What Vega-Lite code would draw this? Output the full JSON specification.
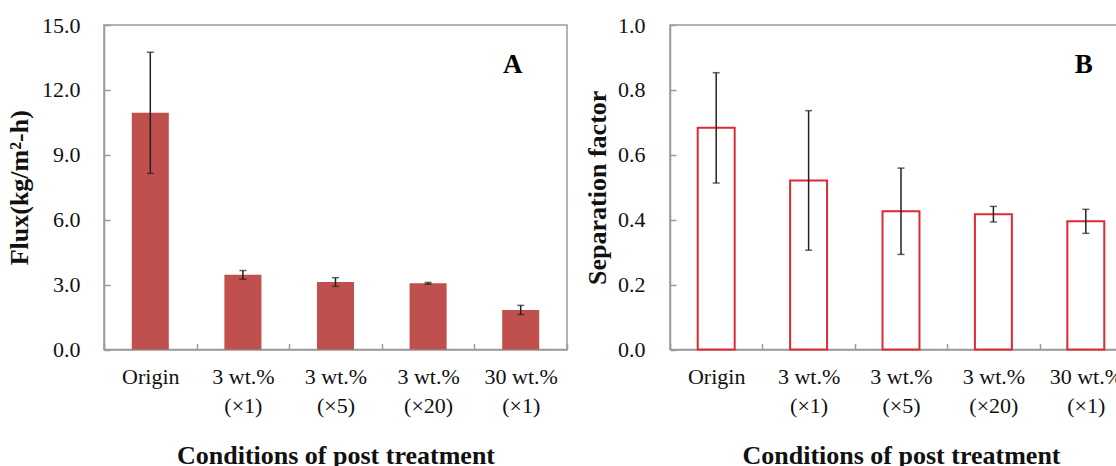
{
  "$schema": "https://vega.github.io/schema/vega-lite/v6.json",
  "padding": {"left": 5, "top": 13, "right": 0, "bottom": 0},
  "spacing": 14,
  "background": "white",
  "datasets": {
    "membrane": [
      {"cond": "Origin", "flux": 10.94, "flux_err": 2.8, "sep": 0.683, "sep_err": 0.17},
      {"cond": "3 wt.%|(×1)", "flux": 3.45, "flux_err": 0.2, "sep": 0.521, "sep_err": 0.215},
      {"cond": "3 wt.%|(×5)", "flux": 3.12, "flux_err": 0.2, "sep": 0.426, "sep_err": 0.133},
      {"cond": "3 wt.%|(×20)", "flux": 3.06, "flux_err": 0.04, "sep": 0.417, "sep_err": 0.024},
      {"cond": "30 wt.%|(×1)", "flux": 1.83, "flux_err": 0.21, "sep": 0.395, "sep_err": 0.037, "panelA": "A", "panelB": "B"}
    ]
  },
  "hconcat": [
    {
      "width": 463,
      "height": 324.5,
      "data": {"name": "membrane"},
      "encoding": {
        "x": {
          "field": "cond", "type": "nominal", "sort": null,
          "scale": {"paddingInner": 0, "paddingOuter": 0},
          "axis": {
            "title": "Conditions of post treatment",
            "labelExpr": "isValid(datum.value) ? split(datum.value, '|') : ''",
            "labelAngle": 0, "labelLineHeight": 29, "labelPadding": 23,
            "tickBand": "extent", "tickSize": -6,
            "titleY": 114.3, "titleBaseline": "alphabetic"
          }
        },
        "y": {
          "field": "flux", "type": "quantitative",
          "scale": {"domain": [0, 15], "nice": false},
          "axis": {
            "title": "Flux(kg/m²-h)",
            "values": [0, 3, 6, 9, 12, 15], "format": ".1f",
            "tickSize": -6, "labelPadding": 30,
            "titleX": -77, "titleY": 162.25, "titleBaseline": "alphabetic", "titleAlign": "center", "titleAngle": -90
          }
        }
      },
      "layer": [
        {"mark": {"type": "bar", "color": "#c0504d", "width": {"band": 0.4}}},
        {
          "mark": {"type": "errorbar", "color": "#222222", "ticks": {"size": 7, "thickness": 1.5}, "rule": {"strokeWidth": 1.5}},
          "encoding": {"yError": {"field": "flux_err"}}
        },
        {
          "transform": [{"filter": "isValid(datum.panelA)"}],
          "mark": {"type": "text", "font": "Liberation Serif", "fontWeight": "bold", "fontSize": 27, "align": "center", "baseline": "alphabetic", "dx": -8, "color": "black"},
          "encoding": {
            "y": {"datum": 12.76},
            "text": {"field": "panelA"}
          }
        }
      ]
    },
    {
      "width": 462,
      "height": 324.5,
      "data": {"name": "membrane"},
      "encoding": {
        "x": {
          "field": "cond", "type": "nominal", "sort": null,
          "scale": {"paddingInner": 0, "paddingOuter": 0},
          "axis": {
            "title": "Conditions of post treatment",
            "labelExpr": "isValid(datum.value) ? split(datum.value, '|') : ''",
            "labelAngle": 0, "labelLineHeight": 29, "labelPadding": 23,
            "tickBand": "extent", "tickSize": -6,
            "titleY": 114.3, "titleBaseline": "alphabetic"
          }
        },
        "y": {
          "field": "sep", "type": "quantitative",
          "scale": {"domain": [0, 1], "nice": false},
          "axis": {
            "title": "Separation factor",
            "values": [0, 0.2, 0.4, 0.6, 0.8, 1.0], "format": ".1f",
            "tickSize": -6, "labelPadding": 31,
            "titleX": -65, "titleY": 162.25, "titleBaseline": "alphabetic", "titleAlign": "center", "titleAngle": -90
          }
        }
      },
      "layer": [
        {"mark": {"type": "bar", "fill": "white", "stroke": "#dd2a35", "strokeWidth": 2, "width": {"band": 0.4}}},
        {
          "mark": {"type": "errorbar", "color": "#222222", "ticks": {"size": 7, "thickness": 1.5}, "rule": {"strokeWidth": 1.5}},
          "encoding": {"yError": {"field": "sep_err"}}
        },
        {
          "transform": [{"filter": "isValid(datum.panelB)"}],
          "mark": {"type": "text", "font": "Liberation Serif", "fontWeight": "bold", "fontSize": 27, "align": "center", "baseline": "alphabetic", "dx": -2, "color": "black"},
          "encoding": {
            "y": {"datum": 0.851},
            "text": {"field": "panelB"}
          }
        }
      ]
    }
  ],
  "config": {
    "font": "Liberation Serif",
    "view": {"stroke": "#9a9a9a", "strokeWidth": 1.5},
    "axis": {
      "labelFont": "Liberation Serif", "labelFontSize": 22, "labelColor": "#111111",
      "titleFont": "Liberation Serif", "titleFontSize": 26, "titleFontWeight": "bold", "titleColor": "#111111",
      "domainColor": "#9a9a9a", "domainWidth": 1.5, "tickColor": "#9a9a9a", "tickWidth": 1.5,
      "grid": false
    }
  }
}
